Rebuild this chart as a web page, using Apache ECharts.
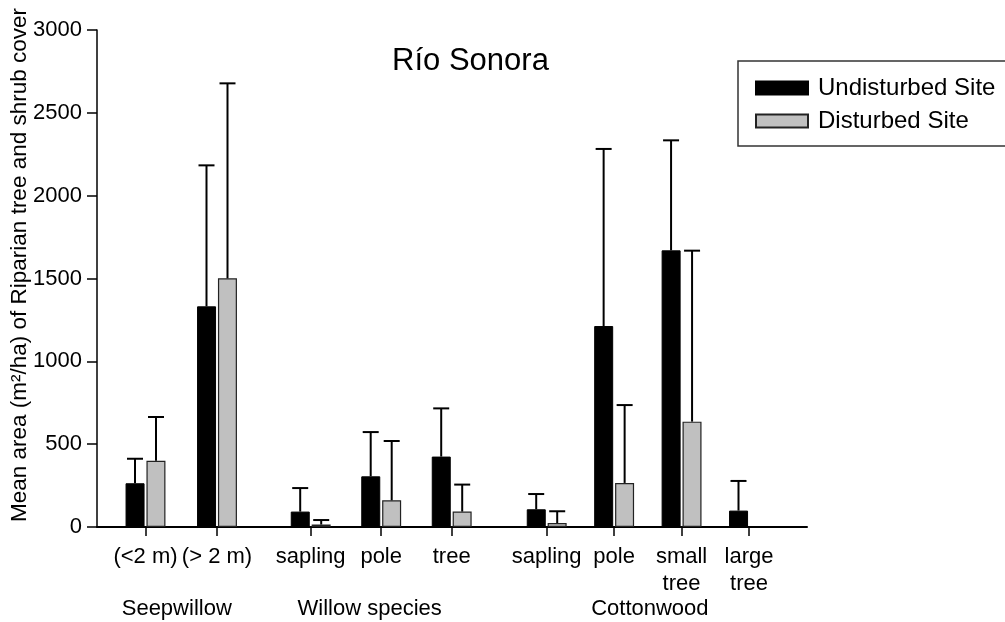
<!DOCTYPE html>
<html>
<head>
<meta charset="utf-8">
<script src="https://cdn.jsdelivr.net/npm/echarts@6/dist/echarts.min.js"></script>
<style>
html,body{margin:0;padding:0;background:#fff;}
#chart{width:1005px;height:622px;}
</style>
</head>
<body>
<div id="chart"></div>
<script>
// ---- data ----
const categories = ['(<2 m)', '(> 2 m)', 'sapling', 'pole', 'tree', 'sapling', 'pole', 'small\ntree', 'large\ntree'];
const groupNames = ['Seepwillow', 'Willow species', 'Cottonwood'];
const groupSizes = [2, 3, 4];
const undisturbedMean = [264, 1332, 93, 306, 425, 107, 1213, 1670, 99];
const undisturbedErr  = [148, 851, 142, 267, 291, 92, 1069, 664, 179];
const disturbedMean   = [400, 1501, 15, 161, 93, 24, 266, 636, null];
const disturbedErr    = [264, 1177, 27, 358, 163, 71, 470, 1032, null];
const seriesNames = ['Undisturbed Site', 'Disturbed Site'];
const titleText = 'Río Sonora';
const yTitle = 'Mean area (m²/ha) of Riparian tree and shrub cover';
const yMin = 0, yMax = 3000, yStep = 500;

// ---- layout ----
const FONT = 'Liberation Sans, Arial, Helvetica, sans-serif';
const gridTop = 30, gridBottom = 95, axisLeft = 97, axisRight = 807;
const groupTickSpans = [[145.5, 217], [310.7, 451.7], [546.7, 749]];
const groupNamePad = [[0, 9, 0, 0], [0, 23, 0, 0], [0, 0, 0, 4]];
const barW = 19, halfOffset = 10.5, capHalf = 8;

const grids = [{left: axisLeft, width: axisRight - axisLeft, top: gridTop, bottom: gridBottom, containLabel: false, outerBoundsMode: 'none'}];
const xAxes = [{
  gridIndex: 0, type: 'value', min: 0, max: 1,
  axisLine: {show: true, onZero: false, lineStyle: {color: '#000', width: 2}},
  axisTick: {show: false}, axisLabel: {show: false}, splitLine: {show: false}
}];
const yAxes = [{
  gridIndex: 0, type: 'value', min: yMin, max: yMax, interval: yStep,
  axisLine: {show: true, lineStyle: {color: '#000', width: 1.5}},
  axisTick: {show: true, length: 10, lineStyle: {color: '#000', width: 1.5}},
  axisLabel: {color: '#000', fontSize: 22, fontFamily: FONT, margin: 15,
    formatter: function (v) { return String(v); }},
  splitLine: {show: false}
}];
const series = [];

function errRender(offset) {
  return function (params, api) {
    const m = api.value(1), e = api.value(2);
    if (isNaN(m) || isNaN(e)) return;
    const idx = api.value(0);
    const b = api.coord([idx, m]);
    const t = api.coord([idx, m + e]);
    const x = b[0] + offset;
    const st = {stroke: '#000', lineWidth: 2};
    return {type: 'group', children: [
      {type: 'line', shape: {x1: x, y1: b[1], x2: x, y2: t[1]}, style: st},
      {type: 'line', shape: {x1: x - capHalf, y1: t[1], x2: x + capHalf, y2: t[1]}, style: st}
    ]};
  };
}

let start = 0;
groupSizes.forEach(function (n, g) {
  const span = groupTickSpans[g];
  const band = (span[1] - span[0]) / (n - 1);
  const gi = g + 1;
  grids.push({left: span[0] - band / 2, width: band * n, top: gridTop, bottom: gridBottom, containLabel: false, outerBoundsMode: 'none'});
  const cats = categories.slice(start, start + n);
  xAxes.push({
    gridIndex: gi, type: 'category', data: cats,
    axisLine: {show: false},
    axisTick: {show: true, alignWithLabel: true, length: 9, lineStyle: {color: '#000', width: 1.5}},
    axisLabel: {interval: 0, color: '#000', fontSize: 22, fontFamily: FONT, margin: 16, lineHeight: 27},
    name: groupNames[g], nameLocation: 'middle', nameGap: 71, nameMoveOverlap: false,
    nameTextStyle: {color: '#000', fontSize: 22, fontFamily: FONT, padding: groupNamePad[g]}
  });
  yAxes.push({gridIndex: gi, type: 'value', min: yMin, max: yMax, show: false});
  const uM = undisturbedMean.slice(start, start + n);
  const uE = undisturbedErr.slice(start, start + n);
  const dM = disturbedMean.slice(start, start + n);
  const dE = disturbedErr.slice(start, start + n);
  series.push({
    name: seriesNames[0], type: 'bar', xAxisIndex: gi, yAxisIndex: gi,
    barWidth: barW, barGap: '10%', data: uM,
    itemStyle: {color: '#000', borderColor: '#000', borderWidth: 1}
  });
  series.push({
    name: seriesNames[1], type: 'bar', xAxisIndex: gi, yAxisIndex: gi,
    barWidth: barW, barGap: '10%', data: dM,
    itemStyle: {color: '#c0c0c0', borderColor: '#222', borderWidth: 1.2}
  });
  series.push({
    name: 'errU' + g, type: 'custom', xAxisIndex: gi, yAxisIndex: gi, z: 5,
    renderItem: errRender(-halfOffset), encode: {x: 0, y: 1},
    data: uM.map(function (v, i) { return [i, v == null ? NaN : v, uE[i] == null ? NaN : uE[i]]; })
  });
  series.push({
    name: 'errD' + g, type: 'custom', xAxisIndex: gi, yAxisIndex: gi, z: 5,
    renderItem: errRender(halfOffset), encode: {x: 0, y: 1},
    data: dM.map(function (v, i) { return [i, v == null ? NaN : v, dE[i] == null ? NaN : dE[i]]; })
  });
  start += n;
});

const chart = echarts.init(document.getElementById('chart'), null, {renderer: 'canvas'});
chart.setOption({
  animation: false,
  backgroundColor: '#fff',
  textStyle: {fontFamily: FONT},
  title: {
    text: titleText, left: 465.5, top: 41, textAlign: 'center',
    textStyle: {color: '#000', fontSize: 31, fontWeight: 'normal', fontFamily: FONT}
  },
  legend: {
    data: seriesNames, orient: 'vertical', left: 738, top: 61,
    padding: [15, 30, 13, 17], itemWidth: 52, itemHeight: 13, itemGap: 9,
    icon: 'rect', borderColor: '#333', borderWidth: 1.5, selectedMode: false,
    textStyle: {color: '#000', fontSize: 24, fontFamily: FONT, padding: [0, 0, 0, 5]}
  },
  graphic: [{
    type: 'text', x: 20, y: 265, rotation: Math.PI / 2,
    style: {text: yTitle, fill: '#000', font: '22.5px ' + FONT, textAlign: 'center', textVerticalAlign: 'middle'}
  }],
  grid: grids, xAxis: xAxes, yAxis: yAxes, series: series
});
</script>
</body>
</html>
